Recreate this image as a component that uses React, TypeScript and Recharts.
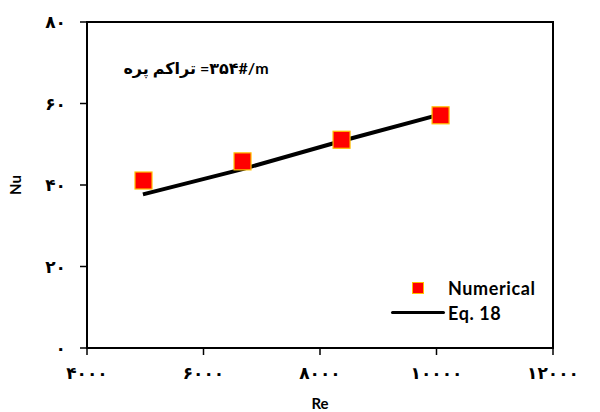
import {
  ComposedChart,
  Scatter,
  Line,
  XAxis,
  YAxis,
  Legend,
  ReferenceArea,
  Label
} from "recharts";

const reTicks = [4000, 6000, 8000, 10000, 12000];
const nuTicks = [0, 20, 40, 60, 80];

const numericalRe = [4970, 6670, 8370, 10070];
const numericalNu = [41.1, 45.8, 51.1, 57.1];

const eqRe = [4960, 6670, 8370, 10085];
const eqNu = [37.7, 43.9, 50.8, 57.4];

const FONT = "Lato, 'DejaVu Sans', sans-serif";

const toFa = (v: number) =>
  String(v).replace(/[0-9]/g, (d) => "۰۱۲۳۴۵۶۷۸۹"[Number(d)]);

const numData = numericalRe.map((re, i) => ({ re, nu: numericalNu[i] }));
const eqData = eqRe.map((re, i) => ({ re, nu: eqNu[i] }));

const SquareDot = (props: any) => {
  const { cx, cy } = props;
  if (cx == null || cy == null) return null;
  return (
    <rect x={cx - 8.5} y={cy - 8.5} width={17} height={17} fill="#ff0000" stroke="#ffc000" strokeWidth={1.2} />
  );
};

function LegendBox() {
  return (
    <div style={{ fontFamily: FONT, fontWeight: 700, fontSize: 18, color: "#000", lineHeight: 1, letterSpacing: 0.6 }}>
      <div style={{ display: "flex", alignItems: "center", height: 25 }}>
        <div style={{ width: 61, display: "flex", justifyContent: "center" }}>
          <div style={{ width: 10, height: 10, background: "#ff0000", border: "1px solid #ffc000", marginLeft: 0 }} />
        </div>
        <span>Numerical</span>
      </div>
      <div style={{ display: "flex", alignItems: "center", height: 25 }}>
        <div style={{ width: 61, display: "flex", alignItems: "center" }}>
          <div style={{ width: 54, height: 3, background: "#000", borderRadius: 2, marginLeft: 4 }} />
        </div>
        <span>Eq. 18</span>
      </div>
    </div>
  );
}

export default function App() {
  const tickStyle = { fill: "#000", fontSize: 17, fontWeight: 700, fontFamily: FONT };
  return (
    <div style={{ position: "absolute", left: 0, top: 0, background: "#fff" }}>
      <ComposedChart width={600} height={412} margin={{ top: 22, right: 47, left: 0, bottom: 0 }}>
        <XAxis
          type="number"
          dataKey="re"
          domain={[4000, 12000]}
          ticks={reTicks}
          tickFormatter={toFa}
          axisLine={{ stroke: "#000", strokeWidth: 2 }}
          tickLine={{ stroke: "#000", strokeWidth: 1.5 }}
          tickSize={7}
          tick={tickStyle}
          tickMargin={12}
          height={64}
          interval={0}
        >
          <Label value="Re" position="insideBottom" offset={3} style={{ fill: "#000", fontSize: 15, fontWeight: 700, fontFamily: FONT }} />
        </XAxis>
        <YAxis
          type="number"
          domain={[0, 80]}
          ticks={nuTicks}
          tickFormatter={toFa}
          axisLine={{ stroke: "#000", strokeWidth: 2 }}
          tickLine={{ stroke: "#000", strokeWidth: 1.5 }}
          tickSize={7}
          tick={tickStyle}
          tickMargin={14}
          width={87}
          interval={0}
        >
          <Label value="Nu" angle={-90} position="insideLeft" offset={16} style={{ fill: "#000", fontSize: 15, fontWeight: 700, fontFamily: FONT, textAnchor: "middle" }} />
        </YAxis>
        <ReferenceArea x1={4000} x2={12000} y1={0} y2={80} fill="none" stroke="#000" strokeWidth={2} />
        <Line
          data={eqData}
          dataKey="nu"
          type="linear"
          stroke="#000"
          strokeWidth={4}
          dot={false}
          activeDot={false}
          isAnimationActive={false}
        />
        <Scatter data={numData} dataKey="nu" shape={<SquareDot />} isAnimationActive={false} />
        <Legend
          content={() => <LegendBox />}
          layout="horizontal"
          verticalAlign="middle"
          align="center"
          wrapperStyle={{ position: "absolute", left: 387, top: 275, width: 175 }}
        />
        <text x={196} y={74} textAnchor="end" style={{ fontFamily: FONT, fontWeight: 700, fontSize: 16, fill: "#000" }}>
          تراکم پره
        </text>
        <text x={200} y={74} textAnchor="start" style={{ fontFamily: FONT, fontWeight: 700, fontSize: 16, fill: "#000" }}>
          =۳۵۴#/m
        </text>
      </ComposedChart>
    </div>
  );
}
